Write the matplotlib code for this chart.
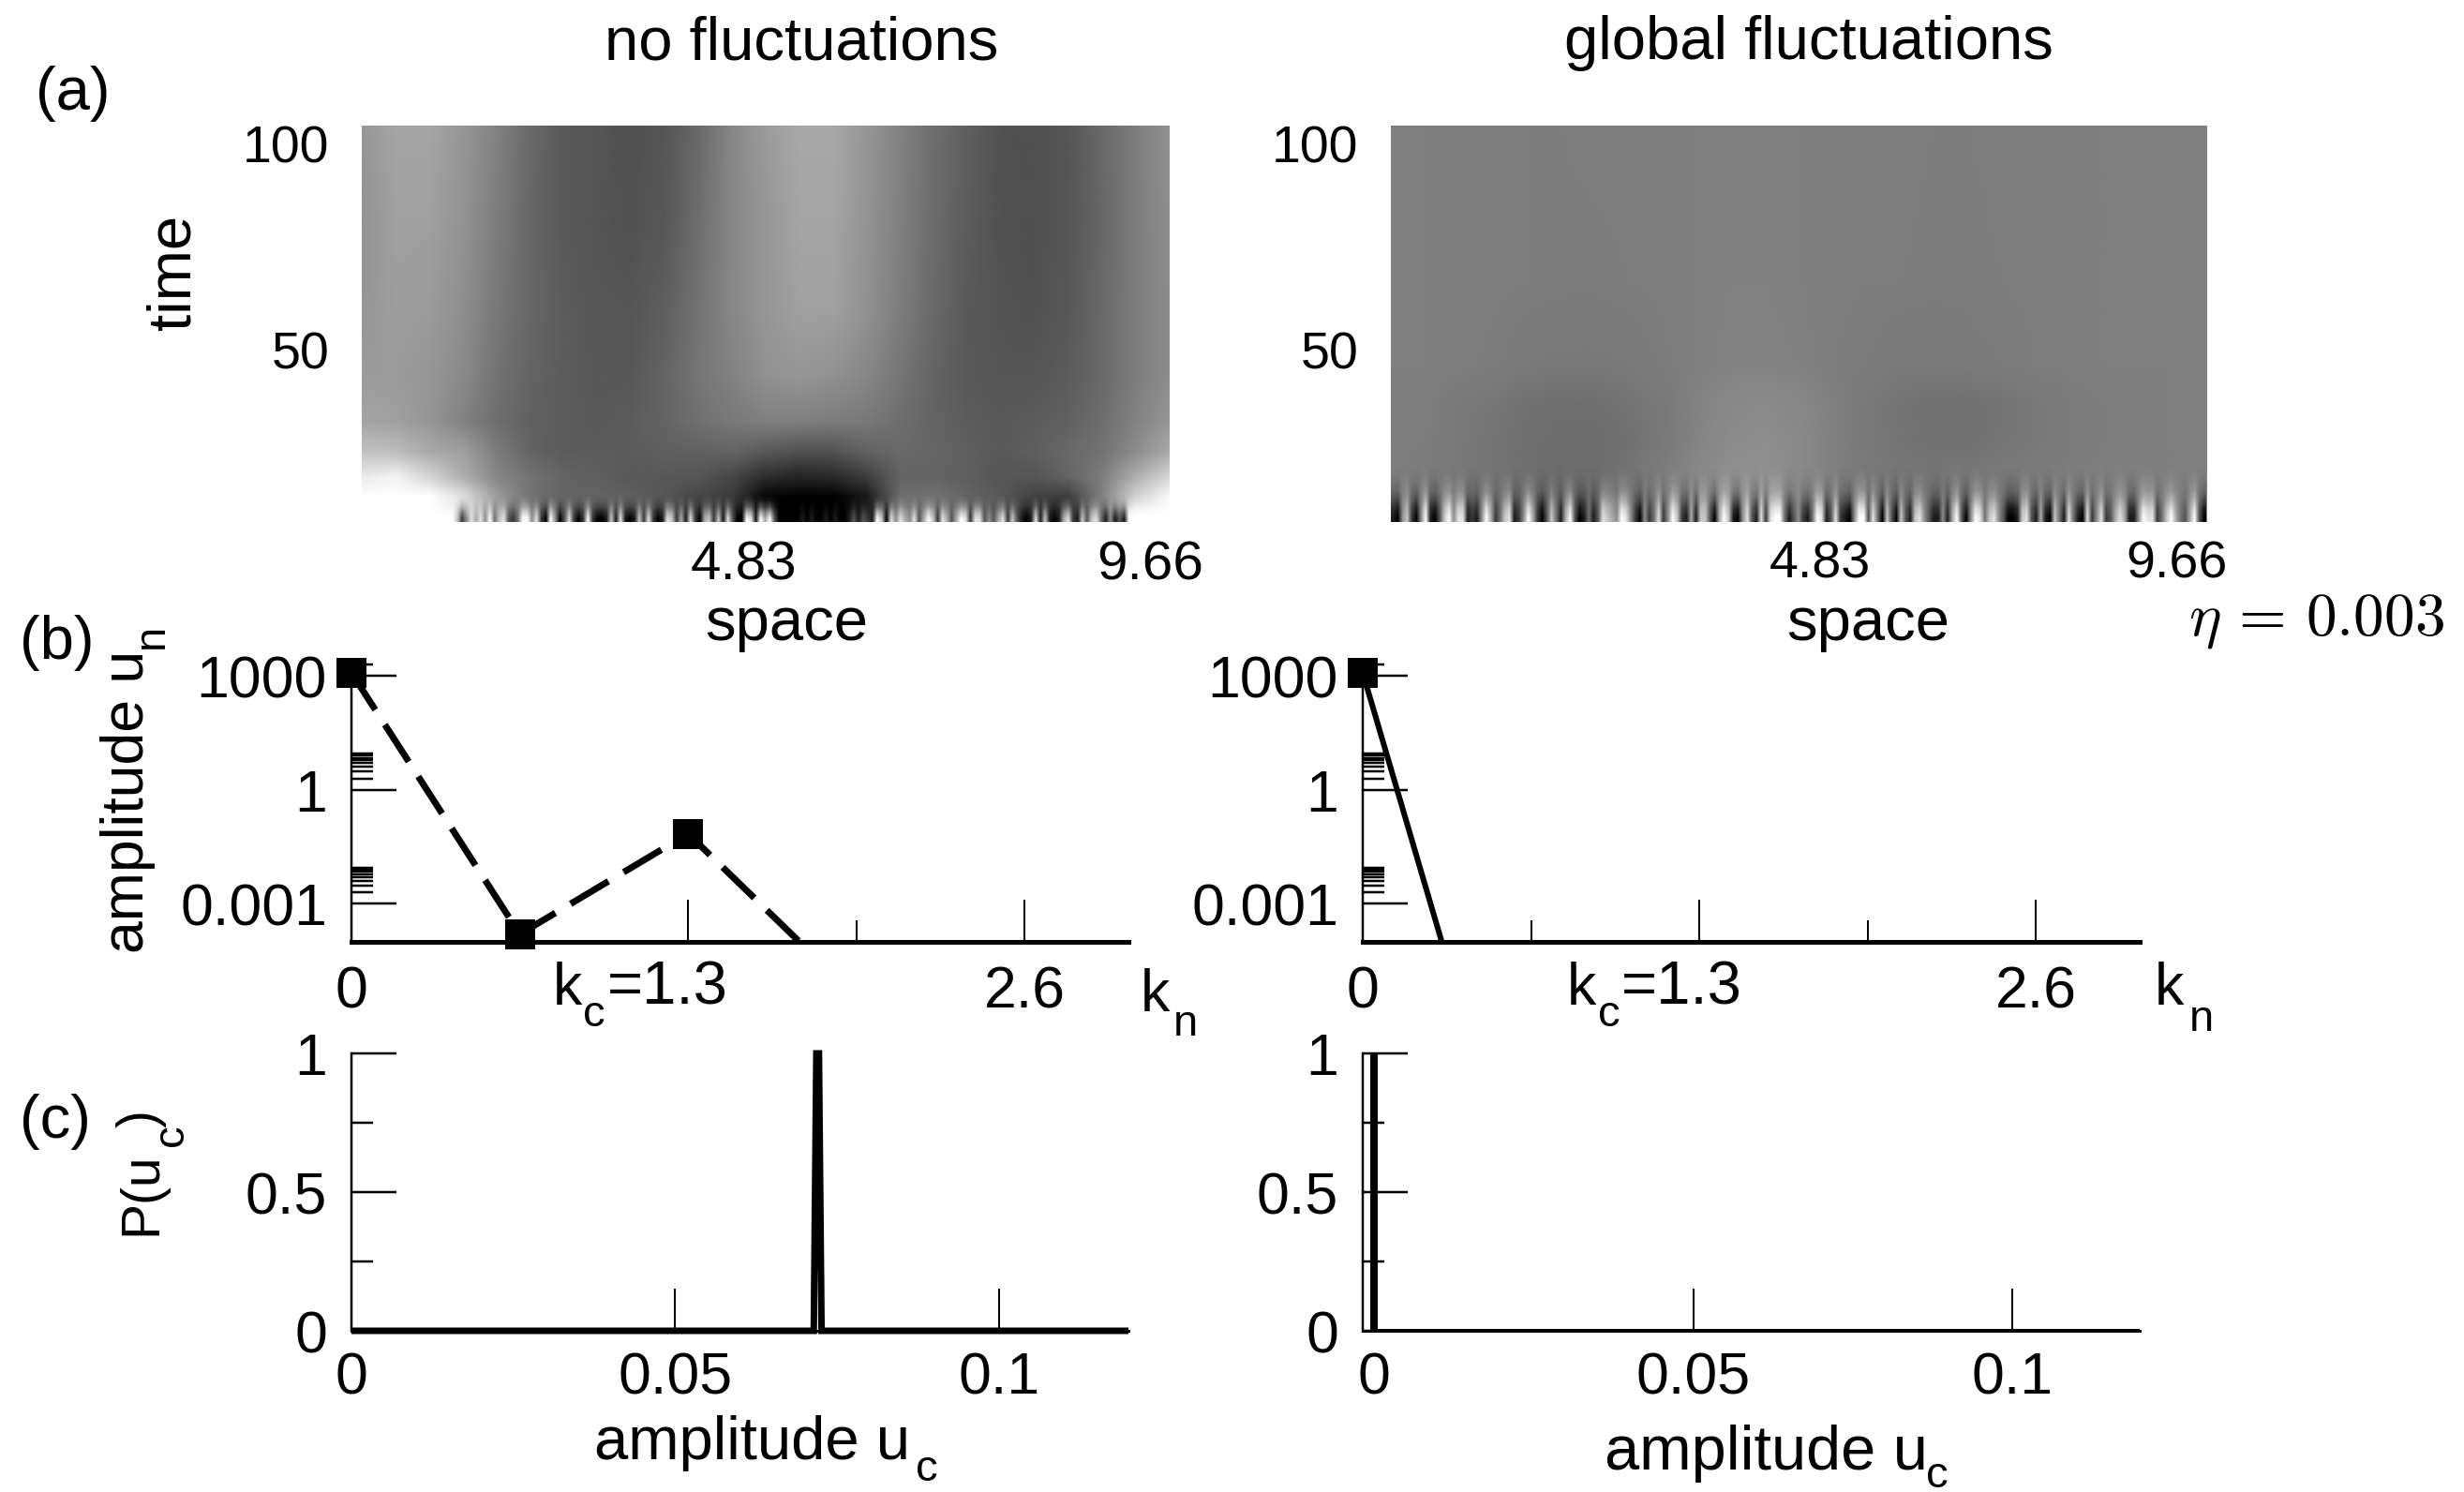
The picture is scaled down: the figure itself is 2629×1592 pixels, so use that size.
import numpy as np
import matplotlib
matplotlib.use("Agg")
import matplotlib.pyplot as plt
from matplotlib.colors import Normalize
from matplotlib.image import NonUniformImage
from matplotlib.ticker import FixedLocator, NullFormatter

plt.rcParams['font.family'] = ['Liberation Sans', 'DejaVu Sans']
plt.rcParams['mathtext.fontset'] = 'cm'

W, H = 2629, 1592
FS = 45

# ---------- (a) gray levels ----------
time_left = [104.1, 81.8, 59.1, 43.9, 32.5, 25.0, 18.9, 14.3, 8.2]
gray_left = [
    [150,165,165,150,130,105,90,85,80,85,105,135,155,168,168,150,130,110,95,82,80,85,105,125,145],
    [148,160,160,148,125,103,90,84,82,87,110,135,150,165,165,148,128,108,92,82,80,85,103,125,142],
    [150,158,155,142,120,103,92,86,85,95,115,135,150,160,160,145,125,105,90,83,82,88,105,125,140],
    [155,155,150,138,115,100,92,88,88,100,118,130,145,150,145,135,118,100,90,85,85,92,105,125,140],
    [165,160,150,130,110,98,92,90,92,100,112,122,128,128,125,122,110,100,92,90,92,98,110,130,150],
    [195,190,170,160,125,100,92,92,92,95,98,100,88,80,82,98,105,102,95,90,95,105,115,140,170],
    [235,245,215,175,135,115,100,95,90,88,85,70,45,35,40,60,100,100,95,85,85,100,125,175,215],
    [255,255,255,225,155,115,100,100,95,85,70,60,5,0,0,25,110,115,100,90,65,60,130,210,250],
    [255,255,255,235,160,115,105,105,100,85,70,55,0,0,0,20,110,115,100,85,60,55,130,255,255],
]
strip_left = [9,9,9,9,9,9,9,9,9,9,9,9,9,9,9,9,9,9,9,9,7,
              2,5,8,6,8,5,9,4,7,8,3,2,4,9,9,5,8,2,0,9,5,0,3,8,2,0,2,9,2,0,0,1,7,1,8,1,0,1,7,2,8,2,0,1,8,7,2,6,1,8,2,0,6,7,2,7,1,8,3,0,0,9,8,1,9,6,
              9,3,0,0,0,0,0,1,0,1,0,0,1,0,1,0,0,1,3,1,3,2,1,9,7,0,8,5,8,6,5,8,3,6,9,7,2,8,6,3,6,9,8,2,8,8,3,5,3,6,8,2,7,3,1,0,1,8,1,7,1,0,1,6,8,2,1,7,3,7,8,4,1,5,1,3,1,
              9,9,9,9,9,9,9,9,9]
fade_left = [0.0, 0.08, 0.3, 0.7, 1.0]

time_right = [104.1, 66.6, 46.1, 37.0, 28.0, 18.9, 8.2]
gray_right = [
    [128,128,127,127,126,126,127,127,127,128,128,128,128,127,127,127,126,126,127,127,128,128,128,128,128],
    [128,128,127,127,126,125,125,126,127,128,129,129,128,127,126,126,125,125,126,127,127,128,128,128,128],
    [128,128,127,125,122,120,120,122,125,128,130,130,129,126,124,122,122,123,124,126,127,128,128,128,128],
    [128,127,122,118,114,112,112,116,122,130,137,139,135,128,120,116,114,114,116,120,124,126,127,128,128],
    [128,126,120,116,112,110,110,114,122,132,140,142,138,128,120,116,114,114,117,120,124,126,127,128,128],
    [126,124,120,116,112,108,110,116,126,136,144,145,138,128,122,118,118,120,122,124,126,127,128,128,128],
    [126,124,120,116,112,108,110,116,126,136,144,145,138,128,122,118,118,120,122,124,126,127,128,128,128],
]
strip_right = [1,0,5,7,2,0,5,9,1,0,3,7,9,5,8,8,1,2,1,5,9,6,2,4,7,8,1,2,5,9,6,2,0,3,7,4,1,6,9,3,0,1,4,1,3,8,7,6,5,9,8,5,2,0,5,2,4,8,2,5,9,7,2,1,6,1,7,7,3,0,6,9,7,1,0,5,8,3,1,8,2,8,9,9,4,1,3,5,
               2,1,4,9,8,1,3,8,2,1,0,5,9,9,3,8,4,0,7,3,0,7,3,1,7,8,5,3,1,1,5,1,6,9,3,0,5,9,8,4,7,8,5,3,0,0,1,7,8,3,1,6,1,0,7,4,1,8,4,1,0,8,2,5,8,2,3,6,8,6,1,1,5,9,8,8,2,4,7,9,6,4,3,6,9,3,0]
fade_right = [0.02, 0.1, 0.2, 0.45, 0.8, 1.0]

time_ticks = [100, 50]
space_labels = ['4.83', '9.66']
space_ticks = [4.83, 9.66]

# ---------- (b) ----------
k_left = [0, 0.65, 1.3, 1.95]
u_left = [1200, 1.6e-4, 0.07, 3.5e-6]
k_right = [0, 0.65]
u_right = [1200, 1e-12]
k_major = [0, 1.3, 2.6]
k_minor = [0.65, 1.95]
k_labels = ['0', '', '2.6']
u_major = [1e-3, 1, 1e3]
u_major_labels = ['0.001', '1', '1000']
u_minor = [2e-3,3e-3,4e-3,5e-3,6e-3,7e-3,8e-3,9e-3,2,3,4,5,6,7,8,9,2000]

# ---------- (c) ----------
uc_left = [0, 0.0714, 0.0718, 0.0722, 0.0726, 0.12]
p_left = [0, 0, 1, 1, 0, 0]
uc_right_spike = [0, 0]
p_right_spike = [1, 0]
uc_right_base = [0, 0.1199]
p_right_base = [0, 0]
uc_ticks = [0, 0.05, 0.1]
uc_labels = ['0', '0.05', '0.1']
p_major = [0, 0.5, 1]
p_labels = ['0', '0.5', '1']
p_minor = [0.25, 0.75]

fig = plt.figure(figsize=(W/100, H/100), dpi=100, facecolor='white')
px = 0.72  # points per pixel at this dpi


def add_ax(x0, x1, y0, y1):
    return fig.add_axes([x0/W, 1-y1/H, (x1-x0)/W, (y1-y0)/H])


def txt(x, y, s, **kw):
    kw.setdefault('fontsize', FS)
    kw.setdefault('ha', 'center')
    kw.setdefault('va', 'baseline')
    return fig.text(x/W, 1-y/H, s, color='black', **kw)


def rtxt(x, y, s, size):
    """Rotated text whose baseline start sits at pixel (x, y)."""
    return txt(x, y, s, fontsize=size, rotation=90, ha='left', va='baseline',
               rotation_mode='anchor')


def heat(ax, xlim, ylim, times, gray, strip, fade, t_top, xsize):
    xs = np.linspace(xlim[0], xlim[1], len(gray[0]))
    base = NonUniformImage(ax, interpolation='bilinear', cmap='gray',
                           norm=Normalize(0, 255))
    base.set_data(xs, np.array(times[::-1], float), np.array(gray[::-1], float))
    ax.add_image(base)
    s = np.array(strip, float)*255/9
    img = np.tile(s, (len(fade), 1))
    alpha = np.tile(np.array(fade)[:, None], (1, len(strip)))
    ax.imshow(img, cmap='gray', vmin=0, vmax=255, aspect='auto', origin='upper',
              extent=(xlim[0], xlim[1], ylim[0], t_top), alpha=alpha,
              interpolation='bilinear', zorder=3)
    ax.set_xlim(xlim)
    ax.set_ylim(ylim)
    ax.set_xticks(space_ticks, space_labels)
    ax.set_yticks(time_ticks, [str(t) for t in time_ticks])
    ax.tick_params(length=0)
    ax.tick_params(axis='x', pad=14, labelsize=xsize)
    ax.tick_params(axis='y', pad=25, labelsize=40)
    for sp in ax.spines.values():
        sp.set_visible(False)


a1 = add_ax(386, 1247, 135, 557)
heat(a1, (0.30, 9.88), (8.2, 104.1), time_left, gray_left, strip_left, fade_left, 15.5, 42)
a2 = add_ax(1484, 2354, 135, 557)
heat(a2, (-0.99, 10.06), (8.2, 104.1), time_right, gray_right, strip_right, fade_right, 21.1, 40)


def style(ax, bottom_px=5, xpad=25):
    ax.spines['top'].set_visible(False)
    ax.spines['right'].set_visible(False)
    ax.spines['left'].set_linewidth(2.5*px)
    ax.spines['bottom'].set_linewidth(bottom_px*px)
    ax.patch.set_alpha(0)
    ax.tick_params(axis='both', which='both', direction='in', labelsize=FS)
    ax.tick_params(axis='y', which='major', length=48*px, width=2.5*px, pad=26*px)
    ax.tick_params(axis='y', which='minor', length=23*px, width=2.5*px)
    ax.tick_params(axis='x', which='major', length=45*px, width=2*px, pad=xpad*px)
    ax.tick_params(axis='x', which='minor', length=23*px, width=2*px)


def spectrum(ax, k, u, ls):
    ymin = 1e-4
    ax.set_yscale('log')
    ax.set_xlim(0, 3.0)
    ax.set_ylim(ymin, 2500)
    line, = ax.plot(k, u, color='black', lw=7*px if ls else 6*px, solid_capstyle='butt')
    if ls:
        line.set_dashes(ls)
        line.set_dash_capstyle('butt')
    shown = [(a, b) for a, b in zip(k, u) if b >= ymin]
    ax.plot([a for a, _ in shown], [b for _, b in shown], ls='none', marker='s',
            ms=32*px, mfc='black', mec='black', mew=0, clip_on=False, zorder=5)
    ax.set_xticks(k_major, k_labels)
    ax.set_xticks(k_minor, minor=True)
    ax.yaxis.set_major_locator(FixedLocator(u_major))
    ax.set_yticklabels(u_major_labels)
    ax.yaxis.set_minor_locator(FixedLocator(u_minor))
    ax.yaxis.set_minor_formatter(NullFormatter())
    style(ax)


b1 = add_ax(375, 1204, 705, 1005)
spectrum(b1, k_left, u_left, (6.7, 2.7))
b2 = add_ax(1454, 2283, 705, 1005)
spectrum(b2, k_right, u_right, None)


def dist(ax, xlim):
    ax.set_xlim(xlim)
    ax.set_ylim(0, 1)
    ax.set_xticks(uc_ticks, uc_labels)
    ax.set_yticks(p_major, p_labels)
    ax.set_yticks(p_minor, minor=True)
    style(ax, 3, xpad=22)


c1 = add_ax(375, 1204, 1124, 1420)
c1.plot(uc_left, p_left, color='black', lw=7*px, clip_on=False, solid_joinstyle='miter',
        solid_capstyle='butt', zorder=5)
dist(c1, (0, 0.12))
c2 = add_ax(1454, 2283, 1124, 1420)
c2.plot(uc_right_spike, p_right_spike, color='black', lw=8*px, clip_on=False,
        solid_capstyle='butt', zorder=5)
c2.plot(uc_right_base, p_right_base, color='black', lw=4*px, clip_on=False,
        solid_capstyle='butt', zorder=5)
dist(c2, (-0.00176, 0.1199))

# ---------- free text ----------
T = 47
SUB = 34
txt(855, 63, 'no fluctuations', fontsize=T)
txt(1930, 63, 'global fluctuations', fontsize=T)
txt(78, 117, '(a)', fontsize=T)
txt(61, 703, '(b)', fontsize=T)
txt(59, 1214, '(c)', fontsize=T)
txt(186, 290, 'time', rotation=90, va='center', fontsize=T)
txt(839, 683, 'space', fontsize=T)
txt(1993, 683, 'space', fontsize=T)

rtxt(153, 1017, 'amplitude u', 45)
rtxt(174, 692, 'n', SUB)
rtxt(166, 1318, 'P(u', 41)
rtxt(195, 1223, 'c', SUB)
rtxt(166, 1203, ')', 41)

txt(590, 1072, 'k', ha='left')
txt(622, 1095, 'c', ha='left', fontsize=SUB)
txt(648, 1072, '=1.3', ha='left', fontsize=47)
txt(1672, 1072, 'k', ha='left')
txt(1705, 1095, 'c', ha='left', fontsize=SUB)
txt(1730, 1072, '=1.3', ha='left', fontsize=47)
txt(1217, 1079, 'k', ha='left')
txt(1252, 1105, 'n', ha='left', fontsize=SUB)
txt(2299, 1072, 'k', ha='left')
txt(2336, 1100, 'n', ha='left', fontsize=SUB)

txt(634, 1557, 'amplitude u', ha='left', fontsize=T)
txt(977, 1580, 'c', ha='left', fontsize=SUB)
txt(1712, 1568, 'amplitude u', ha='left', fontsize=48)
txt(2055, 1587, 'c', ha='left', fontsize=SUB)

txt(2471, 678, r'$\eta\,=\,0.003$', fontsize=T, math_fontfamily='cm')

fig.savefig('out.png', dpi=100)
